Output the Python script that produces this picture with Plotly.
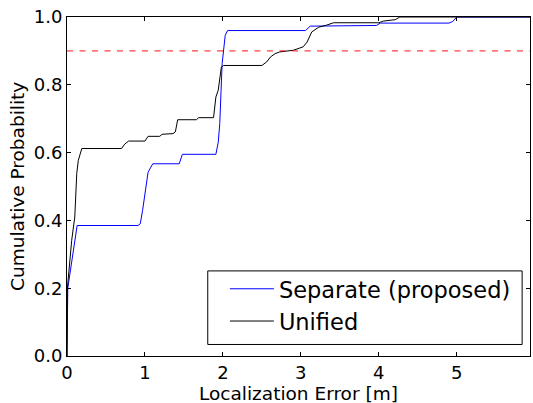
import plotly.graph_objects as go

# Separate (proposed) CDF
sep_x = [0, 0.01, 0.13, 0.91, 0.94, 0.97, 1.04, 1.10, 1.44, 1.48, 1.91, 1.94, 1.96,
         1.99, 2.03, 2.06, 3.06, 3.12, 3.97, 4.02, 4.90, 4.95, 5.0, 5.94]
sep_y = [0, 0.2, 0.385, 0.385, 0.39, 0.43, 0.542, 0.567, 0.567, 0.595, 0.595, 0.63, 0.686,
         0.862, 0.946, 0.960, 0.960, 0.973, 0.975, 0.982, 0.982, 0.987, 1.0, 1.0]

# Unified CDF
uni_x = [0, 0.005, 0.06, 0.10, 0.125, 0.145, 0.19, 0.70, 0.74, 0.79, 1.0, 1.04, 1.19, 1.22,
         1.36, 1.39, 1.42, 1.66, 1.69, 1.88, 1.91, 1.94, 1.98, 2.01, 2.50, 2.56, 2.61, 2.67,
         2.73, 2.905, 3.03, 3.08, 3.14, 3.23, 3.33, 3.42, 4.0, 4.06, 4.21, 4.27, 5.94]
uni_y = [0, 0.2, 0.341, 0.41, 0.538, 0.577, 0.612, 0.612, 0.625, 0.634, 0.634, 0.648, 0.648,
         0.654, 0.656, 0.661, 0.697, 0.697, 0.703, 0.703, 0.764, 0.784, 0.852, 0.857, 0.857,
         0.867, 0.882, 0.892, 0.897, 0.902, 0.912, 0.926, 0.956, 0.970, 0.976, 0.983, 0.983,
         0.988, 0.992, 1.0, 1.0]

THRESHOLD = 0.9
X_RANGE = [0, 5.94]
Y_RANGE = [0, 1.0]
x_ticks = [0, 1, 2, 3, 4, 5]
y_ticks = [0.0, 0.2, 0.4, 0.6, 0.8, 1.0]
X_TITLE = "Localization Error [m]"
Y_TITLE = "Cumulative Probability"

FONT = "DejaVu Sans"

fig = go.Figure()
fig.add_trace(go.Scatter(x=sep_x, y=sep_y, mode="lines", name="Separate (proposed)",
                         line=dict(color="#0000ff", width=1)))
fig.add_trace(go.Scatter(x=uni_x, y=uni_y, mode="lines", name="Unified",
                         line=dict(color="#000000", width=1)))
fig.add_hline(y=THRESHOLD, line=dict(color="rgba(255,0,0,0.75)", width=1.2, dash="6px,6.5px"))

axis_common = dict(showline=True, linecolor="black", linewidth=1, mirror="ticks",
                   ticks="inside", ticklen=4, tickcolor="black", tickwidth=1,
                   showgrid=False, zeroline=False, automargin=False,
                   tickfont=dict(family=FONT, size=18, color="black"))

# legend frame
fig.add_shape(type="rect", xref="paper", yref="paper",
              x0=0.304, x1=0.983, y0=0.034, y1=0.251,
              line=dict(color="black", width=1), fillcolor="white", layer="above")

fig.add_annotation(text=X_TITLE, xref="paper", yref="paper", x=0.5, y=-0.11,
                   xanchor="center", yanchor="middle", showarrow=False,
                   font=dict(family=FONT, size=18.5, color="black"))
fig.add_annotation(text=Y_TITLE, xref="paper", yref="paper", x=-0.107, y=0.5,
                   xanchor="center", yanchor="middle", showarrow=False, textangle=-90,
                   font=dict(family=FONT, size=18.5, color="black"))

fig.update_layout(
    width=533, height=403,
    margin=dict(l=67, r=3, t=17, b=47),
    paper_bgcolor="white", plot_bgcolor="white",
    font=dict(family=FONT, color="black"),
    xaxis=dict(range=X_RANGE, tickvals=x_ticks, ticktext=[str(v) for v in x_ticks],
               **axis_common),
    yaxis=dict(range=Y_RANGE, tickvals=y_ticks, ticktext=[f"{v:.1f}" for v in y_ticks],
               **axis_common),
    legend=dict(x=0.341, y=0.150, xanchor="left", yanchor="middle",
                borderwidth=0, bgcolor="rgba(0,0,0,0)",
                font=dict(family=FONT, size=22.5, color="black"),
                itemwidth=44, tracegroupgap=0),
    showlegend=True,
)

fig.write_html("out.html", config={"displayModeBar": False},
               post_script="document.body.style.margin='0';document.body.style.overflow='hidden';")
